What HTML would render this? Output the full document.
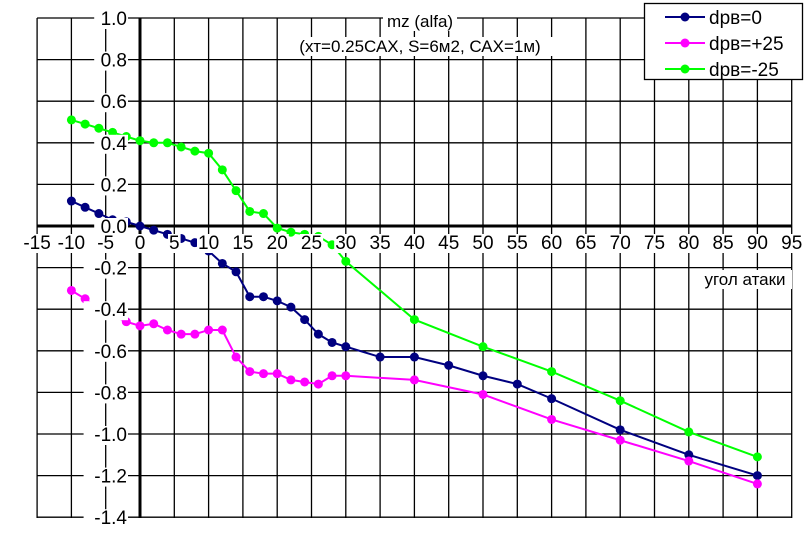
<!DOCTYPE html>
<html><head><meta charset="utf-8"><style>body{margin:0;background:#fff}svg{display:block}text{font-family:"Liberation Sans",sans-serif;font-size:19px}</style></head><body>
<svg id="s" width="807" height="535" xmlns="http://www.w3.org/2000/svg"></svg>
<script>
const s=document.getElementById('s');const NS='http://www.w3.org/2000/svg';
function X(v){return 140+v*6.86}function Y(v){return 226-v*208}
function el(t,a,txt){const e=document.createElementNS(NS,t);for(const k in a)e.setAttribute(k,a[k]);if(txt!=null)e.textContent=txt;s.appendChild(e);return e}
for(let v=-15;v<=95;v+=5)el('line',{x1:X(v),x2:X(v),y1:18,y2:518,stroke:'#000','stroke-width':1.3});
for(let i=-7;i<=5;i++){const v=i*0.2;el('line',{x1:X(-15),x2:X(95),y1:Y(v),y2:Y(v),stroke:'#000','stroke-width':1.3});}
el('line',{x1:X(-15),x2:X(95),y1:Y(0),y2:Y(0),stroke:'#000','stroke-width':3});
el('line',{x1:140,x2:140,y1:18,y2:518,stroke:'#000','stroke-width':3});
const d0=[[-10,.12],[-8,.09],[-6,.06],[-4,.03],[-2,.02],[0,0],[2,-.02],[4,-.04],[6,-.06],[8,-.08],[10,-.12],[12,-.18],[14,-.22],[16,-.34],[18,-.34],[20,-.36],[22,-.39],[24,-.45],[26,-.52],[28,-.56],[30,-.58],[35,-.63],[40,-.63],[45,-.67],[50,-.72],[55,-.76],[60,-.83],[70,-.98],[80,-1.1],[90,-1.2]];
const dp=[[-10,-.31],[-8,-.35],[-6,-.4],[-4,-.43],[-2,-.46],[0,-.48],[2,-.47],[4,-.5],[6,-.52],[8,-.52],[10,-.5],[12,-.5],[14,-.63],[16,-.7],[18,-.71],[20,-.71],[22,-.74],[24,-.75],[26,-.76],[28,-.72],[30,-.72],[40,-.74],[50,-.81],[60,-.93],[70,-1.03],[80,-1.13],[90,-1.24]];
const dm=[[-10,.51],[-8,.49],[-6,.47],[-4,.45],[-2,.43],[0,.41],[2,.4],[4,.4],[6,.38],[8,.36],[10,.35],[12,.27],[14,.17],[16,.07],[18,.06],[20,-.01],[22,-.03],[24,-.04],[26,-.05],[28,-.09],[30,-.17],[40,-.45],[50,-.58],[60,-.7],[70,-.84],[80,-.99],[90,-1.11]];
function ser(d,c){el('polyline',{points:d.map(p=>X(p[0])+','+Y(p[1])).join(' '),fill:'none',stroke:c,'stroke-width':2});d.forEach(p=>el('circle',{cx:X(p[0]),cy:Y(p[1]),r:4.5,fill:c}));}
ser(d0,'#000080');ser(dp,'#ff00ff');ser(dm,'#00ff00');
function lab(x,y,t,anchor,w,fs){const tw=w||t.length*10.6;let lx=anchor==='end'?x-tw:anchor==='middle'?x-tw/2:x;el('rect',{x:lx-1,y:y-15,width:tw+2,height:19,fill:'#fff'});const e=el('text',{x:x,y:y,'text-anchor':anchor},t);if(fs)e.style.fontSize=fs+'px';}
for(let i=-7;i<=5;i++){const v=i*0.2;let t=v.toFixed(1);if(Math.abs(v)<1e-9)t='0.0';lab(127,Y(v)+7,t,'end');}
for(let v=-15;v<=95;v+=5){lab(X(v),249,String(v),'middle');}
lab(745,285,'угол атаки','middle',92,17);
lab(420,27,'mz (alfa)','middle',72,17);
lab(420,52,'(хт=0.25САХ, S=6м2, САХ=1м)','middle',272,17);
el('rect',{x:644.5,y:3.5,width:158,height:76,fill:'#fff',stroke:'#000','stroke-width':1.3});
[['dрв=0','#000080',17],['dрв=+25','#ff00ff',43],['dрв=-25','#00ff00',69]].forEach(([t,c,y])=>{el('line',{x1:665,x2:705,y1:y,y2:y,stroke:c,'stroke-width':2});el('circle',{cx:685,cy:y,r:4.5,fill:c});el('text',{x:709,y:y+7},t);});
</script>
</body></html>
